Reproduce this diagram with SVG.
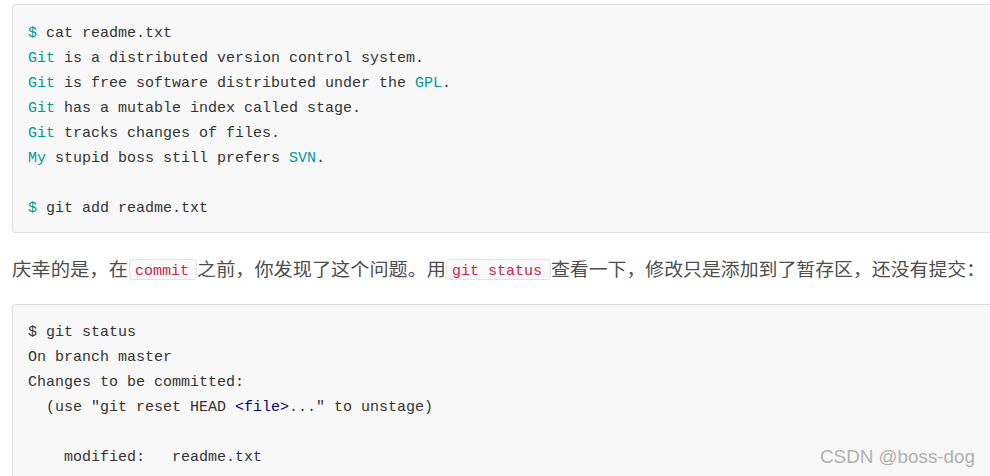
<svg xmlns="http://www.w3.org/2000/svg" width="990" height="476" viewBox="0 0 990 476">
<style>
.code{font-family:"Liberation Mono","DejaVu Sans Mono",monospace;font-size:15px;fill:#333;white-space:pre}
.k{fill:#009999}
.p{font-family:"Noto Sans CJK SC",sans-serif;font-size:18px;fill:#4d4d4d}
.ic{font-family:"Liberation Mono",monospace;font-size:15px;fill:#c7254e;white-space:pre}
</style>
<rect width="990" height="476" fill="#fff"/>
<rect x="12.5" y="4.5" width="990" height="228" rx="3" fill="#f8f8f8" stroke="#ddd"/>
<text class="code" x="28" y="37"><tspan class="k">$</tspan> cat readme.txt</text>
<text class="code" x="28" y="62"><tspan class="k">Git</tspan> is a distributed version control system.</text>
<text class="code" x="28" y="87"><tspan class="k">Git</tspan> is free software distributed under the <tspan class="k">GPL</tspan>.</text>
<text class="code" x="28" y="112"><tspan class="k">Git</tspan> has a mutable index called stage.</text>
<text class="code" x="28" y="137"><tspan class="k">Git</tspan> tracks changes of files.</text>
<text class="code" x="28" y="162"><tspan class="k">My</tspan> stupid boss still prefers <tspan class="k">SVN</tspan>.</text>
<text class="code" x="28" y="212"><tspan class="k">$</tspan> git add readme.txt</text>
<rect x="129.5" y="259.5" width="67" height="20" rx="3" fill="#f9f9f9" stroke="#e3e3e3"/>
<rect x="446.5" y="259.5" width="104" height="20" rx="3" fill="#f9f9f9" stroke="#e3e3e3"/>
<text class="p" x="12" y="276" textLength="116" lengthAdjust="spacingAndGlyphs">庆幸的是，在</text>
<text class="ic" x="135" y="275">commit</text>
<text class="p" x="197" y="276" textLength="249" lengthAdjust="spacingAndGlyphs">之前，你发现了这个问题。用</text>
<text class="ic" x="452" y="275">git status</text>
<text class="p" x="551" y="276" textLength="434" lengthAdjust="spacingAndGlyphs">查看一下，修改只是添加到了暂存区，还没有提交：</text>
<rect x="12.5" y="304.5" width="990" height="200" rx="3" fill="#f8f8f8" stroke="#ddd"/>
<text class="code" x="28" y="336">$ git status</text>
<text class="code" x="28" y="361">On branch master</text>
<text class="code" x="28" y="386">Changes to be committed:</text>
<text class="code" x="28" y="411" xml:space="preserve">  (use "git reset HEAD <tspan fill="#000080">&lt;file&gt;</tspan>..." to unstage)</text>
<text class="code" x="28" y="461" xml:space="preserve">    modified:   readme.txt</text>
<text x="820" y="463" font-family="Liberation Sans, sans-serif" font-size="19" fill="#b0b0b0" textLength="155" lengthAdjust="spacingAndGlyphs">CSDN @boss-dog</text>
</svg>
